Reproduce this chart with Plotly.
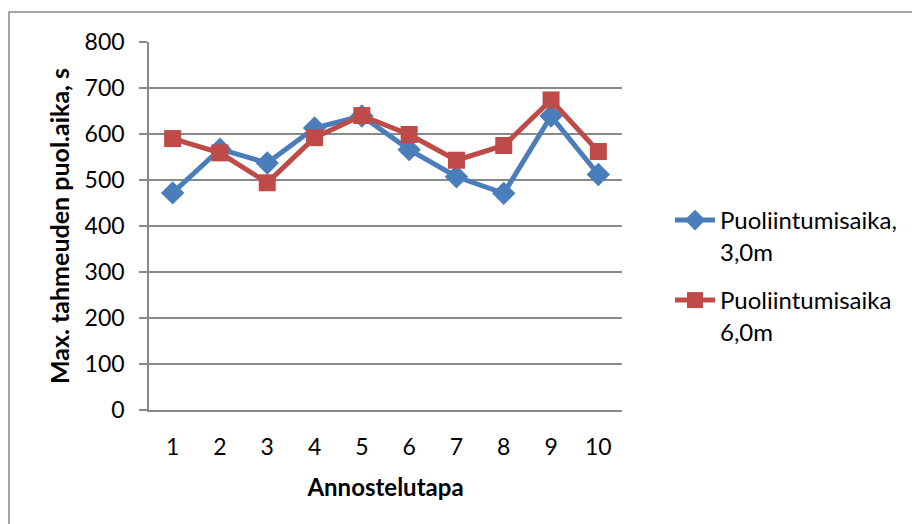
import plotly.graph_objects as go

categories = ["1", "2", "3", "4", "5", "6", "7", "8", "9", "10"]
series_3m = [472, 567, 537, 613, 639, 566, 507, 471, 639, 512]
series_6m = [590, 559, 494, 592, 640, 599, 543, 575, 674, 562]
name_3m = "Puoliintumisaika,<br>3,0m"
name_6m = "Puoliintumisaika<br>6,0m"
y_ticks = [0, 100, 200, 300, 400, 500, 600, 700, 800]

FONT = "Lato, Carlito, Calibri, sans-serif"
BLUE = "#4A7EBB"
RED = "#BE4B48"
GRID = "#898989"

OFF = 8  # page body margin
W, H = 920 - OFF, 524 - OFF
L, T = 149 - OFF, 42 - OFF
pw, ph = 622 - 149, 410 - 42
R = W - L - pw
B = H - T - ph

fig = go.Figure()
fig.add_trace(go.Scatter(
    x=categories, y=series_3m, name=name_3m, mode="lines+markers",
    line=dict(color=BLUE, width=5),
    marker=dict(symbol="diamond", size=18, color=BLUE),
    legend="legend", showlegend=True,
))
fig.add_trace(go.Scatter(
    x=categories, y=series_6m, name=name_6m, mode="lines+markers",
    line=dict(color=RED, width=5),
    marker=dict(symbol="square", size=17, color=RED),
    legend="legend2", showlegend=True,
))

def px_x(px):
    return (px - 149) / pw

def px_y(py):
    return (410 - py) / ph

legend_style = dict(
    xanchor="left", yanchor="top", font=dict(size=24), itemwidth=40,
    valign="top", bgcolor="rgba(0,0,0,0)", visible=True,
)

fig.update_layout(
    width=W, height=H, showlegend=True,
    margin=dict(l=L, r=R, t=T, b=B, pad=0),
    paper_bgcolor="white", plot_bgcolor="white",
    font=dict(family=FONT, size=23, color="black"),
    legend=dict(x=px_x(670), y=px_y(198), **legend_style),
    legend2=dict(x=px_x(670), y=px_y(278), **legend_style),
    xaxis=dict(
        type="category", range=[-0.5, len(categories) - 0.5],
        showgrid=False, showline=True, linecolor=GRID,
        linewidth=1.5, ticks="", tickfont=dict(size=23), ticklabelstandoff=16,
        title=dict(text="<b>Annostelutapa</b>", font=dict(size=24), standoff=20),
        fixedrange=True,
    ),
    yaxis=dict(
        range=[0, 800], tickvals=y_ticks, showgrid=True, gridcolor=GRID,
        gridwidth=1.5, showline=True, linecolor=GRID, linewidth=1.5,
        ticks="outside", ticklen=8, tickcolor=GRID, tickwidth=1.5,
        tickfont=dict(size=23), zeroline=False, ticklabelstandoff=10,
        title=dict(text="<b>Max. tahmeuden puol.aika, s</b>", font=dict(size=25), standoff=8),
        fixedrange=True,
    ),
    shapes=[dict(
        type="rect", xref="paper", yref="paper",
        x0=px_x(9), x1=px_x(935),
        y0=px_y(540), y1=px_y(12),
        line=dict(color="#888888", width=1.5), fillcolor="rgba(0,0,0,0)", layer="below",
    )],
)

fig.write_html("out.html")
